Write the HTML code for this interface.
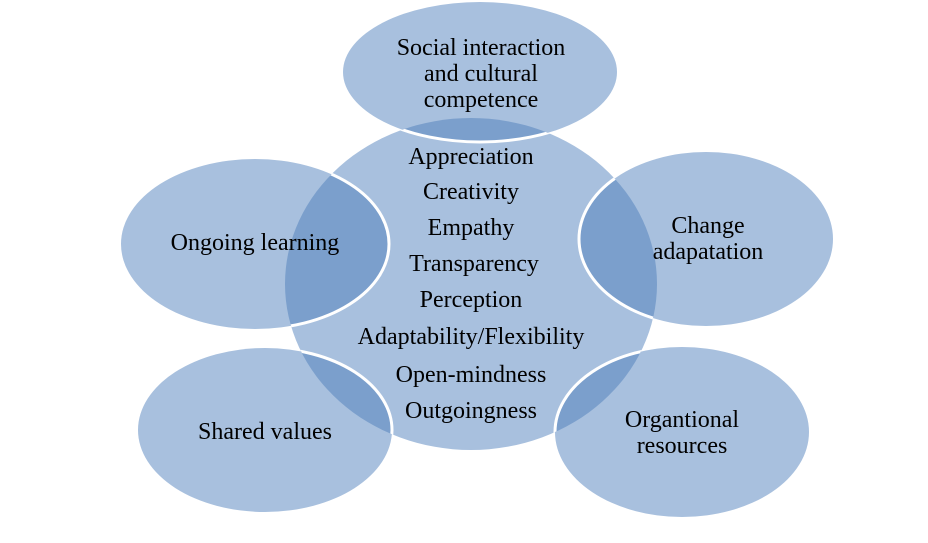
<!DOCTYPE html>
<html><head><style>html,body{margin:0;padding:0;background:#fff;}svg{display:block}</style></head>
<body>
<svg width="928" height="543" viewBox="0 0 928 543" xmlns="http://www.w3.org/2000/svg">
<defs>
<clipPath id="c"><ellipse cx="471" cy="284" rx="186" ry="166"/></clipPath>
</defs>
<ellipse cx="471" cy="284" rx="186" ry="166" fill="#a8c0de"/>
<g fill="#a8c0de">
<ellipse cx="480" cy="72" rx="137" ry="70"/>
<ellipse cx="255" cy="244" rx="134" ry="85"/>
<ellipse cx="706" cy="239" rx="127" ry="87"/>
<ellipse cx="265" cy="430" rx="127" ry="82"/>
<ellipse cx="682" cy="432" rx="127" ry="85"/>
</g>
<g fill="#7b9fcc" clip-path="url(#c)">
<ellipse cx="480" cy="72" rx="137" ry="70"/>
<ellipse cx="255" cy="244" rx="134" ry="85"/>
<ellipse cx="706" cy="239" rx="127" ry="87"/>
<ellipse cx="265" cy="430" rx="127" ry="82"/>
<ellipse cx="682" cy="432" rx="127" ry="85"/>
</g>
<g fill="none" stroke="#fff" stroke-width="3" clip-path="url(#c)">
<ellipse cx="480" cy="72" rx="137" ry="70"/>
<ellipse cx="255" cy="244" rx="134" ry="85"/>
<ellipse cx="706" cy="239" rx="127" ry="87"/>
<ellipse cx="265" cy="430" rx="127" ry="82"/>
<ellipse cx="682" cy="432" rx="127" ry="85"/>
</g>
<g font-family="Liberation Serif, serif" font-size="24" fill="#000" text-anchor="middle">
<text x="481" y="55">Social interaction</text>
<text x="481" y="81">and cultural</text>
<text x="481" y="107">competence</text>
<text x="471" y="164">Appreciation</text>
<text x="471" y="199">Creativity</text>
<text x="471" y="235">Empathy</text>
<text x="474" y="271">Transparency</text>
<text x="471" y="307">Perception</text>
<text x="471" y="344">Adaptability/Flexibility</text>
<text x="471" y="382">Open-mindness</text>
<text x="471" y="418">Outgoingness</text>
<text x="255" y="250">Ongoing learning</text>
<text x="708" y="233">Change</text>
<text x="708" y="259">adapatation</text>
<text x="265" y="439">Shared values</text>
<text x="682" y="427">Organtional</text>
<text x="682" y="453">resources</text>
</g>
</svg>
</body></html>
